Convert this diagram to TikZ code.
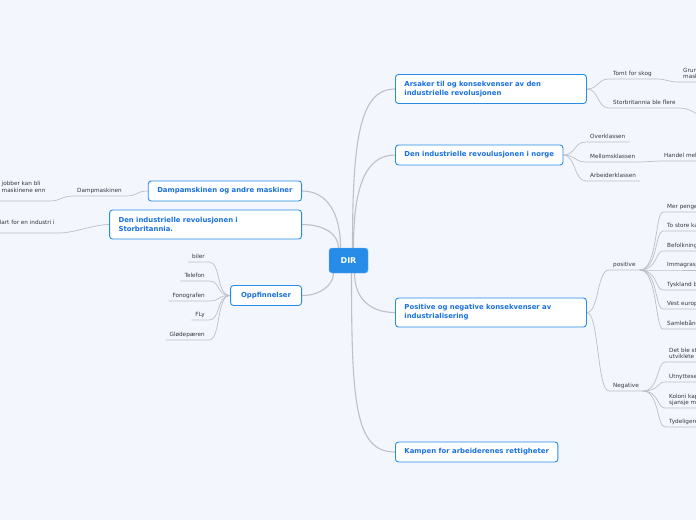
\documentclass[tikz,border=0pt]{standalone}
\usepackage{fontspec}
\setmainfont{DejaVu Sans}
\usetikzlibrary{positioning,backgrounds}
\definecolor{canvas}{RGB}{243,246,253}
\definecolor{mapblue}{RGB}{38,140,232}
\definecolor{topictext}{RGB}{24,112,222}
\definecolor{wire}{RGB}{190,192,200}
\definecolor{leaftext}{RGB}{55,55,60}
\begin{document}
\begin{tikzpicture}[
  x=1pt, y=-1pt,
  root/.style={rounded corners=3pt, draw=mapblue!70, fill=mapblue, text=white, minimum width=39pt, minimum height=25pt, font=\fontsize{8}{9}\selectfont\bfseries},
  topic/.style={rounded corners=3pt, draw=mapblue, line width=0.9pt, fill=white, text=topictext, inner xsep=9pt, minimum height=20pt, align=left, font=\fontsize{6.9}{9}\selectfont\bfseries},
  leaf/.style={inner xsep=4pt, inner ysep=2.4pt, text depth=1.2pt, align=left, text=leaftext, font=\fontsize{5.7}{6.2}\selectfont},
  branch/.style={draw=wire, line width=1.1pt},
  twig/.style={draw=wire, line width=0.7pt}
]
\useasboundingbox (0,0) rectangle (696,520);
\clip (0,0) rectangle (696,520);

% centre and main topics
\node[root] (dir) at (348.5,260.5) {DIR};
\node[topic, anchor=west, text width=173pt, minimum height=29pt] (aarsak) at (395,89) {Arsaker til og konsekvenser av den\\industrielle revolusjonen};
\node[topic, anchor=west, minimum width=167pt] (norge) at (395,155) {Den industrielle revoulusjonen i norge};
\node[topic, anchor=west, text width=173pt, minimum height=29pt] (kons) at (395,312.5) {Positive og negative konsekvenser av\\industrialisering};
\node[topic, anchor=west, minimum width=160pt] (kamp) at (395,452) {Kampen for arbeiderenes rettigheter};
\node[topic, anchor=east, minimum width=153pt] (damp) at (302,191) {Dampamskinen og andre maskiner};
\node[topic, anchor=east, text width=174pt, minimum height=29pt] (brit) at (302,224.5) {Den industrielle revolusjonen i\\Storbritannia.};
\node[topic, anchor=east, minimum width=71pt] (opp) at (302,295.5) {Oppfinnelser};

% right side leaves
\node[leaf, anchor=south west] (tomt) at (609,79) {Tomt for skog};
\node[leaf, anchor=south west] (grun) at (679,82) {Grun\\mask};
\node[leaf, anchor=south west] (stor) at (609,108) {Storbritannia ble flere};
\coordinate (storut) at (716,121);
\node[leaf, anchor=south west] (over) at (586,142) {Overklassen};
\node[leaf, anchor=south west] (mellom) at (586,162) {Mellomsklassen};
\node[leaf, anchor=south west] (arbeider) at (586,181) {Arbeiderklassen};
\node[leaf, anchor=south west] (handel) at (660,161) {Handel mel};
\node[leaf, anchor=south west] (pos) at (609,270) {positive};
\node[leaf, anchor=south west] (penger) at (663,212) {Mer penge};
\node[leaf, anchor=south west] (kaar) at (663,231) {To store ka};
\node[leaf, anchor=south west] (befolk) at (663,251) {Befolkning};
\node[leaf, anchor=south west] (immi) at (663,270) {Immagrasj};
\node[leaf, anchor=south west] (tysk) at (663,290) {Tyskland b};
\node[leaf, anchor=south west] (vest) at (663,309) {Vest europ};
\node[leaf, anchor=south west] (samle) at (663,329) {Samlebånd};
\node[leaf, anchor=south west] (neg) at (609,391) {Negative};
\node[leaf, anchor=south west] (detble) at (665,362) {Det ble st\\utviklete};
\node[leaf, anchor=south west] (utnytt) at (665,382) {Utnyttese};
\node[leaf, anchor=south west] (koloni) at (665,408) {Koloni kap\\sjansje m};
\node[leaf, anchor=south west] (tydelig) at (665,427) {Tydeligere};

% left side leaves
\node[leaf, anchor=south east] (dmask) at (126,196) {Dampmaskinen};
\node[leaf, anchor=south west, text depth=6.4pt] (jobber) at (-2.5,201) {jobber kan bli\\maskinene enn};
\node[leaf, anchor=south east, text depth=6.4pt] (clart) at (59,233) {clart for en industri i};
\node[leaf, anchor=south east] (biler) at (209,262) {biler};
\node[leaf, anchor=south east] (telefon) at (209,281) {Telefon};
\node[leaf, anchor=south east] (fono) at (209,301) {Fonografen};
\node[leaf, anchor=south east] (fly) at (209,320) {FLy};
\node[leaf, anchor=south east] (gloede) at (209,340) {Glødepæren};

\begin{scope}[on background layer]
\clip (0,0) rectangle (696,520);
\fill[canvas] (0,0) rectangle (696,520);
% main branches
\draw[branch] ([xshift=4pt]dir.north) .. controls +(0,-110) and +(-35,0) .. (aarsak.west);
\draw[branch] ([xshift=5pt]dir.north) .. controls +(0,-60) and +(-30,0) .. (norge.west);
\draw[branch] ([xshift=6pt]dir.south) .. controls +(0,25) and +(-25,0) .. (kons.west);
\draw[branch] ([xshift=3pt]dir.south) .. controls +(0,130) and +(-40,0) .. (kamp.west);
\draw[branch] ([xshift=-8pt]dir.north) .. controls +(0,-35) and +(25,0) .. (damp.east);
\draw[branch] ([xshift=-10pt]dir.north) .. controls +(0,-15) and +(20,0) .. (brit.east);
\draw[branch] ([xshift=-15pt]dir.south) .. controls +(0,12) and +(18,0) .. (opp.east);
% twigs, right
\draw[twig] (aarsak.east) .. controls +(12,0) and +(-12,0) .. (tomt.south west) -- (tomt.south east);
\draw[twig] (tomt.south east) .. controls +(12,0) and +(-12,0) .. (grun.south west) -- (grun.south east);
\draw[twig] (aarsak.east) .. controls +(12,0) and +(-12,0) .. (stor.south west) -- (stor.south east);
\draw[twig] (stor.south east) .. controls +(15,0) and +(-15,0) .. (storut);
\draw[twig] (norge.east) .. controls +(12,0) and +(-12,0) .. (over.south west) -- (over.south east);
\draw[twig] (norge.east) .. controls +(12,0) and +(-12,0) .. (mellom.south west) -- (mellom.south east);
\draw[twig] (norge.east) .. controls +(12,0) and +(-12,0) .. (arbeider.south west) -- (arbeider.south east);
\draw[twig] (mellom.south east) .. controls +(10,0) and +(-10,0) .. (handel.south west) -- (handel.south east);
\draw[twig] (kons.east) .. controls +(12,0) and +(-12,0) .. (pos.south west) -- (pos.south east);
\draw[twig] (kons.east) .. controls +(12,0) and +(-12,0) .. (neg.south west) -- (neg.south east);
\draw[twig] (pos.south east) .. controls +(18,0) and +(-8,0) .. (penger.south west) -- (penger.south east);
\draw[twig] (pos.south east) .. controls +(18,0) and +(-8,0) .. (kaar.south west) -- (kaar.south east);
\draw[twig] (pos.south east) .. controls +(18,0) and +(-8,0) .. (befolk.south west) -- (befolk.south east);
\draw[twig] (pos.south east) .. controls +(18,0) and +(-8,0) .. (immi.south west) -- (immi.south east);
\draw[twig] (pos.south east) .. controls +(18,0) and +(-8,0) .. (tysk.south west) -- (tysk.south east);
\draw[twig] (pos.south east) .. controls +(18,0) and +(-8,0) .. (vest.south west) -- (vest.south east);
\draw[twig] (pos.south east) .. controls +(18,0) and +(-8,0) .. (samle.south west) -- (samle.south east);
\draw[twig] (neg.south east) .. controls +(16,0) and +(-8,0) .. (detble.south west) -- (detble.south east);
\draw[twig] (neg.south east) .. controls +(16,0) and +(-8,0) .. (utnytt.south west) -- (utnytt.south east);
\draw[twig] (neg.south east) .. controls +(16,0) and +(-8,0) .. (koloni.south west) -- (koloni.south east);
\draw[twig] (neg.south east) .. controls +(16,0) and +(-8,0) .. (tydelig.south west) -- (tydelig.south east);
% twigs, left
\draw[twig] (damp.west) .. controls +(-12,0) and +(12,0) .. (dmask.south east) -- (dmask.south west);
\draw[twig] (dmask.south west) .. controls +(-12,0) and +(12,0) .. (jobber.south east) -- (jobber.south west);
\draw[twig] (brit.west) .. controls +(-15,0) and +(15,0) .. (clart.south east) -- (clart.south west);
\draw[twig] (opp.west) .. controls +(-14,0) and +(12,0) .. (biler.south east) -- (biler.south west);
\draw[twig] (opp.west) .. controls +(-14,0) and +(12,0) .. (telefon.south east) -- (telefon.south west);
\draw[twig] (opp.west) .. controls +(-14,0) and +(12,0) .. (fono.south east) -- (fono.south west);
\draw[twig] (opp.west) .. controls +(-14,0) and +(12,0) .. (fly.south east) -- (fly.south west);
\draw[twig] (opp.west) .. controls +(-14,0) and +(12,0) .. (gloede.south east) -- (gloede.south west);
\end{scope}
\end{tikzpicture}
\end{document}
